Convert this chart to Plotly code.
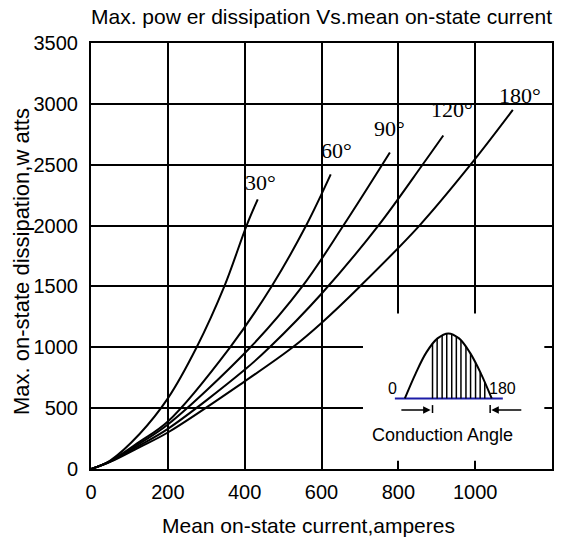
import plotly.graph_objects as go

# ---------------- data ----------------
x_ticks = [0, 200, 400, 600, 800, 1000, 1200]
y_ticks = [0, 500, 1000, 1500, 2000, 2500, 3000, 3500]

curve_names = ["30°", "60°", "90°", "120°", "180°"]

cur_30 = [0, 50, 127, 200, 275, 347, 405, 434]
pow_30 = [0, 70, 290, 580, 1000, 1500, 2000, 2215]

cur_60 = [0, 50, 127, 200, 362, 470, 560, 624]
pow_60 = [0, 65, 225, 390, 1000, 1500, 2000, 2420]

cur_90 = [0, 50, 127, 200, 415, 550, 657, 778]
pow_90 = [0, 62, 210, 365, 1000, 1500, 2000, 2600]

cur_120 = [0, 50, 127, 200, 400, 465, 600, 748, 863, 917]
pow_120 = [0, 60, 195, 330, 815, 1000, 1440, 2000, 2500, 2740]

cur_180 = [0, 50, 127, 200, 400, 525, 600, 700, 855, 988, 1098]
pow_180 = [0, 58, 180, 300, 720, 1000, 1200, 1500, 2000, 2500, 2950]

# curve label anchor points (data units)
label_x = [442, 640, 778, 940, 1116]
label_y = [2350, 2618, 2800, 2950, 3065]

# inset (conduction-angle sketch) geometry, in data units
hump_x = [817, 845, 873, 902, 930, 958, 986, 1015, 1043]
hump_y = [580, 784, 958, 1073, 1114, 1073, 958, 784, 580]
base_x = [791, 1072]
base_y = [580, 580]
hatch_x = [889, 901, 914, 926, 939, 951, 963, 976, 988, 1001, 1013, 1025]
hatch_top = [1028, 1069, 1099, 1111, 1108, 1090, 1057, 1007, 948, 873, 794, 710]
marker_x = [889, 1039]
marker_y = [525, 460]
inset_texts = ["0", "180", "Conduction Angle"]
inset_text_x = [785, 1071, 914]
inset_text_y = [662, 662, 279]
mask_x = [708, 1180]
mask_y = [68, 1278]
arrow_y = 484
arrow_left = [804, 884]
arrow_right = [1124, 1042]

# ---------------- figure ----------------
fig = go.Figure()

curves = [(cur_30, pow_30), (cur_60, pow_60), (cur_90, pow_90),
          (cur_120, pow_120), (cur_180, pow_180)]
for (cx, cy), nm in zip(curves, curve_names):
    fig.add_trace(go.Scatter(x=cx, y=cy, mode="lines", name=nm,
                             line=dict(color="black", width=2, shape="spline", smoothing=1.0),
                             showlegend=False, hoverinfo="skip"))

# inset traces
fig.add_trace(go.Scatter(x=base_x, y=base_y, mode="lines",
                         line=dict(color="#1c1ca8", width=2), showlegend=False, hoverinfo="skip"))
fig.add_trace(go.Scatter(x=hump_x, y=hump_y, mode="lines",
                         line=dict(color="black", width=2, shape="spline"),
                         showlegend=False, hoverinfo="skip"))
hx, hy = [], []
for xv, top in zip(hatch_x, hatch_top):
    hx += [xv, xv, None]
    hy += [base_y[0], top, None]
fig.add_trace(go.Scatter(x=hx, y=hy, mode="lines", line=dict(color="black", width=1.5),
                         showlegend=False, hoverinfo="skip"))
mx, my = [], []
for xv in marker_x:
    mx += [xv, xv, None]
    my += [marker_y[0], marker_y[1], None]
fig.add_trace(go.Scatter(x=mx, y=my, mode="lines", line=dict(color="black", width=1.5),
                         showlegend=False, hoverinfo="skip"))

# white mask behind inset (covers grid lines)
fig.add_shape(type="rect", xref="x", yref="y", x0=mask_x[0], x1=mask_x[1],
              y0=mask_y[0], y1=mask_y[1], fillcolor="white", line=dict(width=0),
              layer="between")

annotations = []
for t, lx, ly in zip(curve_names, label_x, label_y):
    annotations.append(dict(x=lx, y=ly, xref="x", yref="y", text=t, showarrow=False,
                            font=dict(family="Liberation Serif", size=22, color="black")))
for t, lx, ly, fs in zip(inset_texts, inset_text_x, inset_text_y, [16, 16, 18]):
    annotations.append(dict(x=lx, y=ly, xref="x", yref="y", text=t, showarrow=False,
                            font=dict(family="Liberation Sans", size=fs, color="black")))
# arrows
annotations.append(dict(x=arrow_left[1], y=arrow_y, ax=arrow_left[0], ay=arrow_y,
                        xref="x", yref="y", axref="x", ayref="y", text="",
                        showarrow=True, arrowhead=2, arrowsize=1, arrowwidth=1.5, arrowcolor="black"))
annotations.append(dict(x=arrow_right[1], y=arrow_y, ax=arrow_right[0], ay=arrow_y,
                        xref="x", yref="y", axref="x", ayref="y", text="",
                        showarrow=True, arrowhead=2, arrowsize=1, arrowwidth=1.5, arrowcolor="black"))
# axis titles
annotations.append(dict(x=(308 - 91) / 461, y=-(525 - 469) / 426, xref="paper", yref="paper",
                        text="Mean on-state current,amperes", showarrow=False,
                        font=dict(family="Liberation Sans", size=21, color="black"),
                        xanchor="center", yanchor="middle"))
annotations.append(dict(x=-(91 - 21) / 461, y=(469 - 262) / 426, xref="paper", yref="paper",
                        text="Max. on-state dissipation,w atts", showarrow=False, textangle=-90,
                        font=dict(family="Liberation Sans", size=22, color="black"),
                        xanchor="center", yanchor="middle"))

fig.update_layout(
    width=574, height=539,
    margin=dict(l=91, r=22, t=43, b=70),
    paper_bgcolor="white", plot_bgcolor="white",
    title=dict(text="Max. pow er dissipation Vs.mean on-state current",
               x=0.5, xref="paper", y=1 - 17 / 539, yref="container",
               xanchor="center", yanchor="middle",
               font=dict(family="Liberation Sans", size=21, color="black")),
    annotations=annotations,
    showlegend=False,
)
fig.update_xaxes(range=[0, 1200], tickvals=x_ticks, ticktext=[str(v) for v in x_ticks],
                 showgrid=True, gridcolor="black", gridwidth=2,
                 showline=True, linecolor="black", linewidth=2, mirror=True,
                 zeroline=False, ticks="", ticklabelstandoff=4,
                 tickfont=dict(family="Liberation Sans", size=20, color="black"))
fig.update_yaxes(range=[0, 3500], tickvals=y_ticks, ticktext=[str(v) for v in y_ticks],
                 showgrid=True, gridcolor="black", gridwidth=2,
                 showline=True, linecolor="black", linewidth=2, mirror=True,
                 zeroline=False, ticks="", ticklabelstandoff=7,
                 tickfont=dict(family="Liberation Sans", size=20, color="black"))

fig.write_html("out.html")
